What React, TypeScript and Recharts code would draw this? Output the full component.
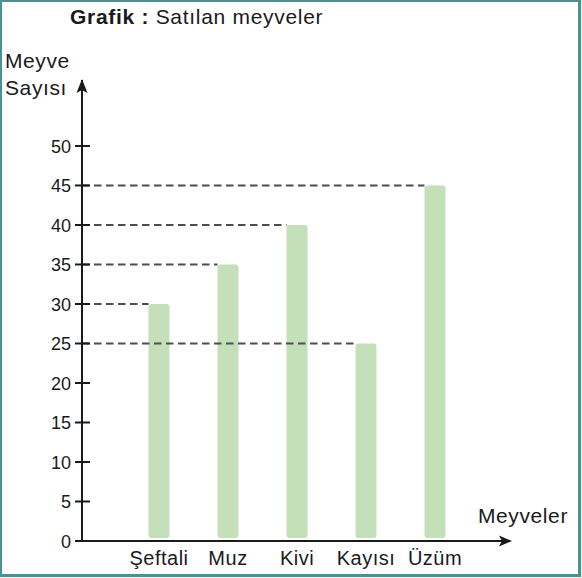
import React from 'react';
import { BarChart, Bar, XAxis, YAxis } from 'recharts';

const fruits = ['Şeftali', 'Muz', 'Kivi', 'Kayısı', 'Üzüm'];
const counts = [30, 35, 40, 25, 45];
const yTicks = [0, 5, 10, 15, 20, 25, 30, 35, 40, 45, 50];

const data = fruits.map((name, i) => ({ name, count: counts[i] }));

const FONT = '"Liberation Sans", Arial, Helvetica, sans-serif';
const INK = '#1a1a1a';
const BAR = '#c3e0b9';
const DASH = '#4d4d4d';
const FRAME = '#4a9292';
const MARGIN = { top: 80, right: 72, left: 22, bottom: 7 };
const Y_AXIS_W = 60;
const AXIS_X = MARGIN.left + Y_AXIS_W;

// bar with the dashed guide running back to the y axis
const FruitBar = (props: any) => {
  const { x, y, width, height } = props;
  return <g>
      <rect x={x} y={y} width={width} height={Math.max(height - 3, 0)} rx={3} ry={3} fill={BAR} />
      <line x1={AXIS_X} x2={x} y1={y} y2={y} stroke={DASH} strokeWidth={1.9} strokeDasharray="7.5 4.5" />
    </g>;
};

const YTick = (props: any) => {
  const { x, y, payload } = props;
  const ax = x + 11;
  return <g>
      <line x1={ax - 7} x2={ax + 8} y1={y} y2={y} stroke={INK} strokeWidth={2} />
      <text x={x} y={y} dy="0.38em" textAnchor="end" fontSize={18} fontFamily={FONT} fill={INK}>
        {payload.value}
      </text>
    </g>;
};

const XTick = (props: any) => {
  const { x, y, payload } = props;
  return <text x={x} y={y + 24} textAnchor="middle" fontSize={20} fontFamily={FONT} fill={INK} letterSpacing={0.5}>
      {payload.value}
    </text>;
};

const YArrow = (props: any) => {
  const { viewBox } = props;
  const ax = viewBox.x + viewBox.width;
  const top = viewBox.y;
  return <g>
      <path d={`M${ax},${top - 1} L${ax + 5.5},${top + 13} L${ax},${top + 10} L${ax - 5.5},${top + 13} Z`} fill={INK} />
      <text x={5} y={top - 12} fontSize={21} fontFamily={FONT} fill={INK} letterSpacing={0.6}>Meyve</text>
      <text x={5} y={top + 15} fontSize={21} fontFamily={FONT} fill={INK} letterSpacing={0.6}>Sayısı</text>
    </g>;
};

const XArrow = (props: any) => {
  const { viewBox } = props;
  const r = viewBox.x + viewBox.width;
  const ay = viewBox.y;
  return <g>
      <path d={`M${r + 2},${ay} L${r - 11},${ay - 5.5} L${r - 8},${ay} L${r - 11},${ay + 5.5} Z`} fill={INK} />
      <text x={478} y={ay - 18} fontSize={21} fontFamily={FONT} fill={INK} letterSpacing={0.6}>Meyveler</text>
    </g>;
};

const App = () => {
  return <div style={{ position: 'absolute', left: 0, top: 0, width: 582, height: 578, background: 'white' }}>
      <div style={{
      position: 'absolute',
      left: 0,
      top: 0,
      width: 576,
      height: 572,
      border: `2px solid ${FRAME}`,
      borderRightWidth: 3,
      borderBottomWidth: 3
    }} />
      <div style={{
      position: 'absolute',
      left: 70,
      top: 6,
      fontFamily: FONT,
      fontSize: 21,
      lineHeight: '21px',
      letterSpacing: 0.7,
      color: INK,
      whiteSpace: 'nowrap'
    }}>
        <b>Grafik :</b> Satılan meyveler
      </div>
      <div style={{ position: 'absolute', left: 0, top: 0 }}>
        <BarChart width={582} height={578} data={data} margin={MARGIN}>
          <XAxis dataKey="name" interval={0} padding={{ left: 42.5, right: 40.5 }} height={30}
          axisLine={{ stroke: INK, strokeWidth: 2 }} tickLine={false} tickSize={0} tickMargin={0}
          tick={<XTick />} label={<XArrow />} />
          <YAxis type="number" domain={[0, 58.35]} ticks={yTicks} interval={0} width={Y_AXIS_W}
          axisLine={{ stroke: INK, strokeWidth: 2 }} tickLine={false} tickSize={8} tickMargin={3}
          tick={<YTick />} label={<YArrow />} />
          <Bar dataKey="count" barSize={21} shape={<FruitBar />} isAnimationActive={false} />
        </BarChart>
      </div>
    </div>;
};

export default App;
